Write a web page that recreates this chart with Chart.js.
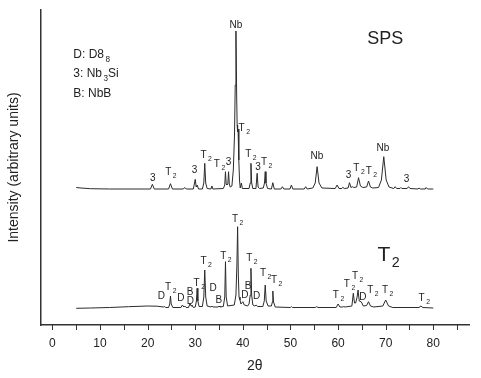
<!DOCTYPE html>
<html>
<head>
<meta charset="utf-8">
<script src="https://cdn.jsdelivr.net/npm/chart.js@4.4.1/dist/chart.umd.min.js"></script>
<style>
  html, body { margin: 0; padding: 0; background: #fff; }
  #wrap { width: 481px; height: 378px; position: relative; }
</style>
</head>
<body>
<div id="wrap"><canvas id="xrd"></canvas></div>
<script>
// --- data (2θ in degrees, intensity in arbitrary units) ---
const spsAngle = [5.0, 6.0, 8.0, 12.0, 20.6, 21.0, 21.4, 24.4, 24.8, 25.2, 27.5, 27.8, 28.1, 29.6, 30.0, 30.2, 30.4, 30.7,
  31.5, 31.8, 32.0, 32.2, 32.5, 33.3, 33.5, 33.7, 35.9, 36.2, 36.35, 36.5, 36.65, 36.85, 37.0, 37.15, 37.35, 37.7,
  38.0, 38.25, 38.4, 38.55, 38.7, 38.8, 38.9, 39.0, 39.15, 39.3, 39.45, 39.7, 39.9, 41.3, 41.55, 41.7, 41.85, 42.1,
  42.75, 43.0, 43.2, 43.5, 44.3, 44.55, 44.7, 44.85, 45.2, 46.0, 46.3, 46.6, 48.0, 48.3, 48.6, 49.9, 50.2, 50.5,
  52.9, 53.2, 53.5, 54.7, 55.2, 55.6, 56.0, 56.6, 59.4, 59.8, 60.2, 60.8, 61.0, 61.3, 62.1, 62.4, 62.7, 63.0, 63.3,
  63.9, 64.3, 64.7, 65.2, 66.0, 66.4, 66.8, 67.3, 68.5, 69.1, 69.6, 70.1, 70.7, 71.7, 72.0, 72.3, 73.0, 73.2, 73.4,
  74.5, 74.8, 75.1, 76.8, 77.0, 77.3, 78.3, 78.5, 78.8, 80.0];
const spsIntensity = [137.5, 137, 136.3, 136, 136, 140.7, 136, 136, 141.3, 136, 136, 137.5, 136, 136, 145.7, 138, 140, 136,
  136, 142, 161.7, 142, 136.5, 136, 139, 136, 136.5, 140, 153.3, 141, 140, 141, 153.3, 141, 138, 139,
  155, 190, 240, 294, 230, 200, 193, 196, 165, 145, 137, 142, 136.5, 136.5, 142, 161.7, 142, 136.5,
  136.5, 151.7, 138, 136.5, 137, 142, 153.3, 142, 136.5, 136, 142.3, 136, 136, 138.3, 136, 136, 140, 136,
  136, 138.3, 136, 137, 142, 158.3, 142, 137, 136.5, 140, 136.5, 136.5, 137.7, 136.5, 137, 142.3, 137.5, 138.3, 137.5,
  138, 147.3, 139, 137.5, 138, 144, 138, 137, 137.5, 145, 168.3, 145, 138, 136.5, 138.3, 136.5, 136.5, 137.5, 136.5,
  136.5, 138.3, 136.5, 136, 137, 136, 136, 137.5, 136, 136];

const t2Angle = [5.0, 8.0, 12.0, 16.0, 20.0, 22.0, 23.3, 23.5, 23.8, 24.4, 24.65, 24.8, 24.95, 25.3, 27.0, 27.3, 27.6, 27.8,
  28.1, 28.6, 28.9, 29.15, 29.3, 29.6, 30.0, 30.25, 30.4, 30.55, 30.8, 31.5, 31.8, 32.0, 32.2, 32.5, 33.3, 33.5,
  33.7, 34.8, 35.0, 35.2, 35.9, 36.2, 36.35, 36.5, 36.8, 38.2, 38.55, 38.75, 38.9, 39.05, 39.2, 39.4, 39.6, 40.0,
  40.3, 41.0, 41.3, 41.55, 41.7, 41.85, 42.1, 42.5, 42.8, 43.1, 44.2, 44.5, 44.7, 44.9, 45.3, 46.0, 46.2, 46.3,
  46.45, 46.8, 50.0, 50.2, 50.4, 55.2, 55.5, 55.8, 59.6, 60.0, 60.4, 61.0, 61.2, 61.5, 62.9, 63.2, 63.45, 63.7,
  64.0, 64.2, 64.45, 64.9, 65.3, 66.0, 66.4, 66.8, 67.5, 69.4, 70.0, 70.6, 71.5, 77.0, 77.4, 77.8, 80.0];
const t2Intensity = [16.7, 17, 17.5, 18.3, 19, 18.8, 18, 18.5, 17.5, 17.5, 21, 29, 21, 17.5, 17.5, 20, 18, 19,
  17.5, 17.5, 21.7, 19, 20, 17.5, 18, 24, 36.7, 24, 18.5, 18.5, 28, 55, 28, 19, 18, 19,
  18, 18, 19, 18, 18.5, 28, 63.3, 28, 19, 20, 30, 60, 98.3, 50, 28, 25, 21, 23.3,
  20, 19, 21, 30, 56.7, 30, 20, 19, 20, 18.5, 18.5, 24, 40, 24, 19, 19, 23, 34,
  23, 18, 17.5, 18.5, 17.5, 17.5, 18.3, 17.5, 17.5, 21, 18, 18, 18.5, 18, 19, 31.7, 22, 22,
  28, 35, 24, 23, 19, 19.5, 23.3, 19, 18, 19, 25, 19, 17.5, 17.5, 19, 17.5, 17];

// peak annotations: text ("_x" = subscript), 2θ, intensity level of the label
const spsPeakText  = ['3', 'T_2', '3', 'T_2', 'T_2', '3', 'Nb', 'T_2', 'T_2', '3', 'T_2', 'Nb', '3', 'T_2', 'T_2', 'Nb', '3'];
const spsPeakAngle = [21.1, 24.9, 29.85, 32.3, 35.1, 37.0, 38.55, 40.3, 41.7, 43.2, 45.0, 55.55, 62.2, 64.4, 67.0, 69.4, 74.4];
const spsPeakLevel = [146.7, 152.3, 154.3, 170, 160.7, 162.7, 300, 197, 170.7, 157.3, 162.7, 168.3, 150, 156.7, 153.3, 176.7, 146];

const t2PeakText  = ['D', 'T_2', 'D', 'B', 'D', 'T_2', 'T_2', 'D', 'B', 'T_2', 'T_2', 'D', 'B', 'T_2', 'D', 'T_2', 'T_2',
  'T_2', 'T_2', 'T_2', 'D', 'T_2', 'T_2', 'T_2'];
const t2PeakAngle = [22.9, 24.85, 27.0, 28.9, 29.0, 30.85, 32.3, 33.75, 34.95, 36.45, 38.9, 40.4, 41.1, 41.9, 42.9, 44.8, 47.1,
  60.1, 62.4, 64.1, 65.2, 67.3, 70.4, 78.1];
const t2PeakLevel = [28.3, 37.7, 26.3, 33, 23.3, 41.7, 64, 36.3, 25, 68.3, 106, 30, 39, 66.7, 29, 51.7, 44.3,
  30, 41, 48.3, 27.3, 35, 35, 26.7];

const keyLines = ['D: D8_8', '3: Nb_3Si', 'B: NbB'];
const keyLevel = [270, 251, 231];

const xTicks = [0, 5, 10, 15, 20, 25, 30, 35, 40, 45, 50, 55, 60, 65, 70, 75, 80, 85];
const xTickLabels = ['0', '10', '20', '30', '40', '50', '60', '70', '80'];

const FONT = '"Liberation Sans", Arial, sans-serif';
const INK = '#222';

function toPoints(xs, ys) { return xs.map((x, i) => ({ x: x, y: ys[i] })); }

// text with "_c" subscripts
function drawRich(ctx, str, x, y, size, align) {
  const parts = [];
  let buf = '';
  for (let i = 0; i < str.length; i++) {
    if (str[i] === '_' && i + 1 < str.length) {
      if (buf) parts.push([buf, false]);
      buf = '';
      parts.push([str[i + 1], true]);
      i++;
    } else buf += str[i];
  }
  if (buf) parts.push([buf, false]);
  const subSize = size * 0.68;
  let total = 0;
  parts.forEach(p => {
    ctx.font = (p[1] ? subSize : size) + 'px ' + FONT;
    p.push(ctx.measureText(p[0]).width + (p[1] ? 1.5 : 0));
    total += p[2];
  });
  let cx = align === 'center' ? x - total / 2 : x;
  ctx.textAlign = 'left';
  ctx.textBaseline = 'middle';
  parts.forEach(p => {
    ctx.font = (p[1] ? subSize : size) + 'px ' + FONT;
    ctx.fillText(p[0], cx + (p[1] ? 1.5 : 0), p[1] ? y + size * 0.38 : y);
    cx += p[2];
  });
}

const annotations = {
  id: 'annotations',
  afterDraw(chart) {
    const ctx = chart.ctx;
    const xs = chart.scales.x, ys = chart.scales.y;
    ctx.save();
    // tick marks below the x axis
    ctx.strokeStyle = '#333';
    ctx.lineWidth = 1;
    xTicks.forEach(v => {
      const px = Math.round(xs.getPixelForValue(v)) + 0.5;
      ctx.beginPath();
      ctx.moveTo(px, ys.bottom);
      ctx.lineTo(px, ys.bottom + 5);
      ctx.stroke();
    });
    ctx.fillStyle = INK;
    spsPeakText.forEach((t, i) =>
      drawRich(ctx, t, xs.getPixelForValue(spsPeakAngle[i]), ys.getPixelForValue(spsPeakLevel[i]), 10, 'center'));
    t2PeakText.forEach((t, i) =>
      drawRich(ctx, t, xs.getPixelForValue(t2PeakAngle[i]), ys.getPixelForValue(t2PeakLevel[i]), 10, 'center'));
    keyLines.forEach((t, i) =>
      drawRich(ctx, t, xs.getPixelForValue(4.4), ys.getPixelForValue(keyLevel[i]), 12, 'left'));
    drawRich(ctx, 'SPS', xs.getPixelForValue(69.9), ys.getPixelForValue(286), 18, 'center');
    drawRich(ctx, 'T_2', xs.getPixelForValue(70.6), ys.getPixelForValue(70), 21, 'center');
    ctx.restore();
  }
};

new Chart(document.getElementById('xrd'), {
  type: 'line',
  data: {
    datasets: [
      { label: 'SPS', data: toPoints(spsAngle, spsIntensity) },
      { label: 'T2', data: toPoints(t2Angle, t2Intensity) }
    ]
  },
  options: {
    responsive: true,
    maintainAspectRatio: false,
    animation: false,
    layout: { padding: { top: 10, right: 12, left: 0, bottom: 0 } },
    elements: {
      line: { borderColor: '#2b2b2b', borderWidth: 1, tension: 0 },
      point: { radius: 0 }
    },
    plugins: { legend: { display: false }, tooltip: { enabled: false } },
    scales: {
      x: {
        type: 'linear',
        min: -2.5,
        max: 87.5,
        afterBuildTicks: (scale) => { scale.ticks = xTicks.map(v => ({ value: v })); },
        afterFit: (scale) => { scale.height = 53; },
        grid: { display: false },
        border: { display: true, color: '#333', width: 1.5 },
        ticks: {
          autoSkip: false,
          maxRotation: 0,
          padding: 3,
          color: INK,
          font: { family: FONT, size: 12 },
          callback: (v) => (v % 10 === 0 ? xTickLabels[v / 10] : '')
        },
        title: {
          display: true,
          text: '2θ',
          color: INK,
          font: { family: FONT, size: 14 },
          padding: { top: 0, bottom: 3 }
        }
      },
      y: {
        min: 0,
        max: 315,
        afterFit: (scale) => { scale.width = 40.5; },
        grid: { display: false },
        border: { display: true, color: '#333', width: 1.5 },
        ticks: { display: false },
        title: {
          display: true,
          text: 'Intensity (arbitrary units)',
          color: INK,
          font: { family: FONT, size: 14 },
          padding: { top: 6, bottom: 0 }
        }
      }
    }
  },
  plugins: [annotations]
});
</script>
</body>
</html>
